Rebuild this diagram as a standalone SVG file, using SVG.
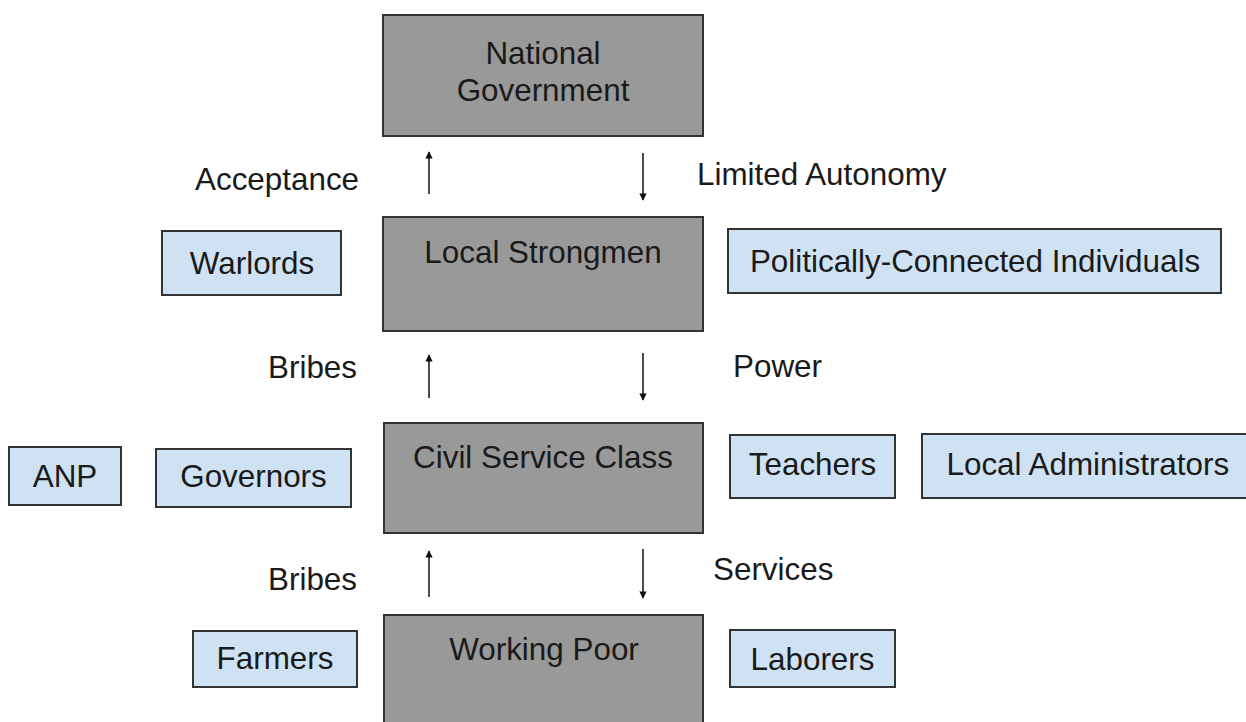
<svg xmlns="http://www.w3.org/2000/svg" width="1246" height="722" viewBox="0 0 1246 722">
  <style>
    text { font-family: "Liberation Sans", Arial, sans-serif; font-size: 31.4px; fill: #1a1a1a; }
    .mid { text-anchor: middle; }
    .end { text-anchor: end; }
    .tier { fill: #999999; stroke: #333; stroke-width: 2; }
    .member { fill: #cfe2f3; stroke: #333; stroke-width: 2; }
    .flow { stroke: #111; stroke-width: 1.5; fill: none; marker-end: url(#head); }
  </style>
  <defs>
    <marker id="head" viewBox="0 0 10 10" refX="9" refY="5" markerWidth="5.8" markerHeight="4.8" orient="auto" markerUnits="strokeWidth">
      <path d="M0,0 L10,5 L0,10 z" fill="#111"/>
    </marker>
  </defs>
  <rect width="1246" height="722" fill="#ffffff"/>

  <!-- main tiers -->
  <g id="national-government">
    <rect class="tier" x="383" y="15" width="320" height="121"/>
    <text class="mid" x="543" y="64">National</text>
    <text class="mid" x="543" y="101">Government</text>
  </g>
  <g id="local-strongmen">
    <rect class="tier" x="383" y="217" width="320" height="114"/>
    <text class="mid" x="543" y="263">Local Strongmen</text>
  </g>
  <g id="civil-service-class">
    <rect class="tier" x="384" y="423" width="319" height="110"/>
    <text class="mid" x="543" y="468">Civil Service Class</text>
  </g>
  <g id="working-poor">
    <rect class="tier" x="384" y="615" width="319" height="120"/>
    <text class="mid" x="544" y="660">Working Poor</text>
  </g>

  <!-- members of each tier -->
  <g id="warlords">
    <rect class="member" x="162" y="231" width="179" height="64"/>
    <text class="mid" x="252" y="274">Warlords</text>
  </g>
  <g id="politically-connected">
    <rect class="member" x="728" y="229" width="493" height="64"/>
    <text class="mid" x="975" y="272">Politically-Connected Individuals</text>
  </g>
  <g id="anp">
    <rect class="member" x="9" y="447" width="112" height="58"/>
    <text class="mid" x="65" y="487">ANP</text>
  </g>
  <g id="governors">
    <rect class="member" x="156" y="449" width="195" height="58"/>
    <text class="mid" x="253.5" y="487">Governors</text>
  </g>
  <g id="teachers">
    <rect class="member" x="730" y="435" width="165" height="63"/>
    <text class="mid" x="812.5" y="475">Teachers</text>
  </g>
  <g id="local-administrators">
    <rect class="member" x="922" y="434" width="334" height="64"/>
    <text x="946.5" y="475">Local Administrators</text>
  </g>
  <g id="farmers">
    <rect class="member" x="193" y="631" width="164" height="56"/>
    <text class="mid" x="275" y="669">Farmers</text>
  </g>
  <g id="laborers">
    <rect class="member" x="730" y="630" width="165" height="57"/>
    <text class="mid" x="812.5" y="670">Laborers</text>
  </g>

  <!-- exchanges between tiers -->
  <g id="connectors">
    <line class="flow" x1="429" y1="194" x2="429" y2="152"/>
    <line class="flow" x1="643" y1="153" x2="643" y2="200"/>
    <line class="flow" x1="429" y1="398" x2="429" y2="355"/>
    <line class="flow" x1="643" y1="353" x2="643" y2="400"/>
    <line class="flow" x1="429" y1="597" x2="429" y2="551"/>
    <line class="flow" x1="643" y1="549" x2="643" y2="598"/>
    <text x="195" y="190">Acceptance</text>
    <text x="697" y="185">Limited Autonomy</text>
    <text class="end" x="357" y="378">Bribes</text>
    <text x="733" y="377">Power</text>
    <text class="end" x="357" y="590">Bribes</text>
    <text x="713" y="580">Services</text>
  </g>
</svg>
